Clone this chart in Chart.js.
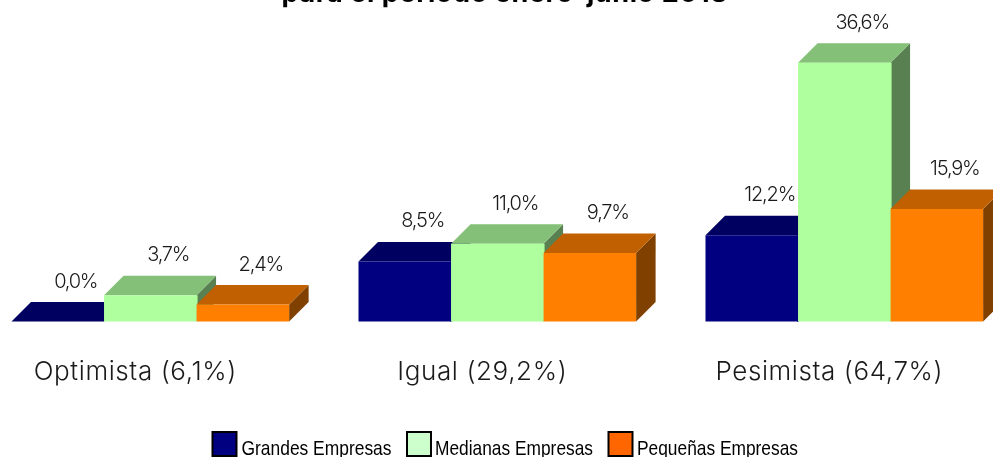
<!DOCTYPE html>
<html><head><meta charset="utf-8">
<style>
html,body{margin:0;padding:0;background:#fff;overflow:hidden;width:993px;height:457px}
#wrap{position:absolute;left:-40px;top:-30px;width:1092px;height:500px}
canvas{display:block}
</style>
<script src="https://cdn.jsdelivr.net/npm/chart.js@4/dist/chart.umd.min.js"></script>
</head><body>
<div id="wrap"><canvas id="c" width="1092" height="500"></canvas></div>
<script>
const categories = ["Optimista (6,1%)", "Igual (29,2%)", "Pesimista (64,7%)"];
const grandes = [0.0, 8.5, 12.2];
const medianas = [3.7, 11.0, 36.6];
const pequenas = [2.4, 9.7, 15.9];
const seriesNames = ["Grandes Empresas", "Medianas Empresas", "Pequeñas Empresas"];
const barColors = ["#000080", "#B0FF9F", "#FF8000"];
const topColors = ["#000060", "#84C077", "#C06000"];
const sideColors = ["#000040", "#588050", "#804000"];
const legendColors = ["#000080", "#CCFFCC", "#FF6600"];
const titleText = "para el período enero-junio 2013";
const DEPTH = 19.5;
const OFFX = 40, OFFY = 30;                 // canvas offset inside the window
const legendBoxX = [212.5, 407, 608.5];
const legendTextX = [241.5, 435, 637];
const legendTextW = [150, 158, 161];

const bar3d = {
  id: "bar3d",
  beforeDatasetsDraw(chart) {
    const ctx = chart.ctx;
    const last = chart.data.datasets.length - 1;
    chart.data.datasets.forEach((ds, i) => {
      const meta = chart.getDatasetMeta(i);
      meta.data.forEach(el => {
        const p = el.getProps(["x", "y", "base", "width"], true);
        const l = p.x - p.width / 2, r = p.x + p.width / 2;
        ctx.fillStyle = sideColors[i];
        ctx.beginPath();
        ctx.moveTo(r, p.y); ctx.lineTo(r + DEPTH, p.y - DEPTH);
        ctx.lineTo(r + DEPTH, p.base - DEPTH); ctx.lineTo(r, p.base);
        ctx.closePath(); ctx.fill();
        ctx.fillStyle = topColors[i];
        ctx.beginPath();
        ctx.moveTo(l, p.y); ctx.lineTo(l + DEPTH, p.y - DEPTH);
        ctx.lineTo(r + DEPTH, p.y - DEPTH); ctx.lineTo(r, p.y);
        ctx.closePath(); ctx.fill();
        if (i < last) {                      // closes the hairline seam to the next bar
          ctx.fillStyle = barColors[i];
          ctx.fillRect(r - 1, p.y, 2, p.base - p.y);
        }
      });
      meta.controller.draw();
    });
    return false;
  },
  beforeDraw(chart) { chart.ctx.letterSpacing = "0.6px"; },
  afterDraw(chart) {
    const ctx = chart.ctx;
    ctx.save();
    ctx.letterSpacing = "-1.2px";
    ctx.font = "300 20px Inter, 'Open Sans', sans-serif";
    ctx.fillStyle = "#1a1a1a";
    ctx.textAlign = "center";
    ctx.textBaseline = "middle";
    chart.data.datasets.forEach((ds, i) => {
      chart.getDatasetMeta(i).data.forEach((el, j) => {
        ctx.fillText(ds.data[j].toFixed(1).replace(".", ",") + "%", el.x + 18, el.y - 40);
      });
    });
    ctx.restore();
    // legend: condensed text needs a horizontal scale the built-in legend has no option for
    ctx.save();
    ctx.letterSpacing = "0px";
    ctx.font = "21px 'Liberation Sans', Arial, sans-serif";
    ctx.textAlign = "left";
    ctx.textBaseline = "alphabetic";
    seriesNames.forEach((name, i) => {
      ctx.fillStyle = legendColors[i];
      ctx.strokeStyle = "#000";
      ctx.lineWidth = 2;
      ctx.fillRect(legendBoxX[i] + OFFX, 432 + OFFY, 24, 24);
      ctx.strokeRect(legendBoxX[i] + OFFX, 432 + OFFY, 24, 24);
      const natural = ctx.measureText(name).width;
      ctx.save();
      ctx.translate(legendTextX[i] + OFFX, 455 + OFFY);
      ctx.scale(legendTextW[i] / natural, 1);
      ctx.fillStyle = "#000";
      ctx.fillText(name, 0, 0);
      ctx.restore();
    });
    ctx.restore();
    ctx.letterSpacing = "0px";
  }
};

new Chart(document.getElementById("c"), {
  type: "bar",
  data: {
    labels: categories,
    datasets: [grandes, medianas, pequenas].map((d, i) => ({
      label: seriesNames[i], data: d, backgroundColor: barColors[i],
      borderWidth: 0, categoryPercentage: 0.8, barPercentage: 1
    }))
  },
  options: {
    responsive: false, animation: false,
    layout: { padding: { left: 16.8, right: 18.8 } },
    scales: {
      x: {
        grid: { display: false }, border: { display: false },
        afterFit(s) { s.height = 148.5; },
        ticks: { color: "#1a1a1a", font: { family: "Inter, 'Open Sans', sans-serif", size: 26, weight: "300" },
          padding: 27.5, labelOffset: -15, maxRotation: 0, autoSkip: false }
      },
      y: {
        position: "right", min: 0, max: 42.08,
        grid: { display: false }, border: { display: false }, ticks: { display: false },
        afterFit(s) { s.width = 15.4; }
      }
    },
    plugins: {
      tooltip: { enabled: false },
      title: { display: true, text: titleText, color: "#000",
        font: { family: "Inter, 'Open Sans', sans-serif", size: 27, weight: "bold" },
        padding: { top: 7.8, bottom: 13.8 } },
      legend: { display: false }
    }
  },
  plugins: [bar3d]
});
</script>
</body></html>
